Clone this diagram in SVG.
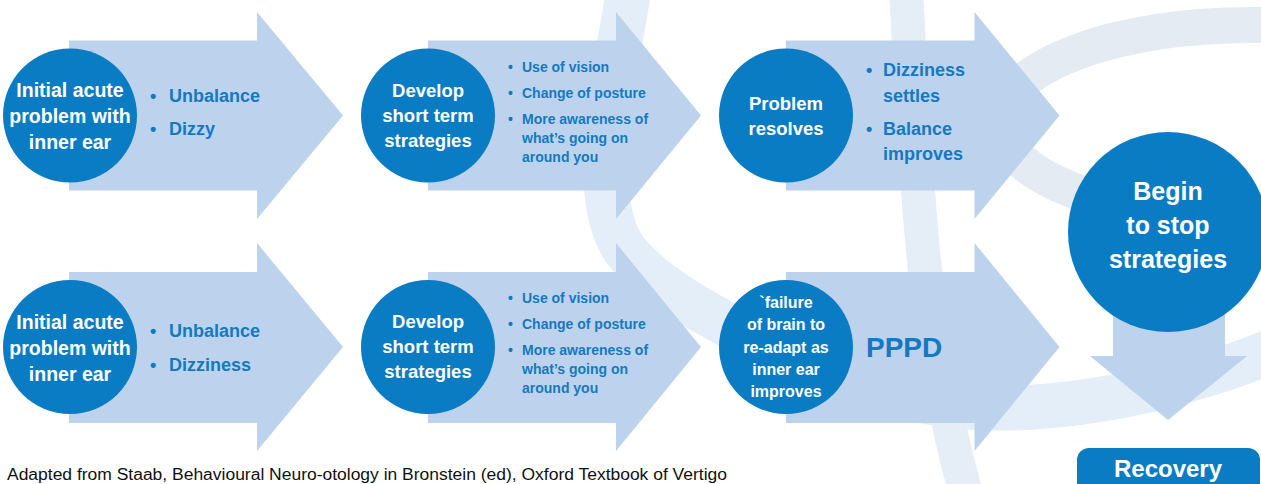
<svg xmlns="http://www.w3.org/2000/svg" width="1261" height="484" viewBox="0 0 1261 484">
  <style>
    .ring { fill: none; }
    .arrow { fill: #bdd3ed; }
    .dot { fill: #0a7cc4; }
    .ct { font-family: "Liberation Sans", Arial, sans-serif; font-weight: bold; fill: #ffffff; text-anchor: middle; }
    .bt { font-family: "Liberation Sans", Arial, sans-serif; font-weight: bold; fill: #1479c1; }
    .foot { font-family: "Liberation Sans", Arial, sans-serif; fill: #111111; font-size: 16px; }
  </style>
  <rect width="1261" height="484" fill="#ffffff"/>
  <g id="background">
    <path class="ring" d="M 628 -5 C 610 100, 590 200, 625 250 C 660 295, 760 350, 900 395 C 1000 425, 1150 400, 1270 352" stroke="#e3eef8" stroke-width="45"/>
    <path class="ring" d="M 906 -10 C 915 150, 920 330, 965 490" stroke="#e5eef6" stroke-width="34"/>
    <ellipse class="ring" cx="1250" cy="122" rx="250" ry="97" stroke="#e5ebf2" stroke-width="36"/>
  </g>
  <g id="connectors">
    <path class="arrow" d="M69 40.5 H257 V12 L343 115.5 L257 219 V190.5 H69 Z"/>
    <path class="arrow" d="M428 40.5 H616 V12 L701 115.5 L616 219 V190.5 H428 Z"/>
    <path class="arrow" d="M786 40.5 H974.5 V12 L1059.5 115.5 L974.5 219 V190.5 H786 Z"/>
    <path class="arrow" d="M69 272 H257 V243 L343 347 L257 451 V423 H69 Z"/>
    <path class="arrow" d="M428 272 H616 V243 L701 347 L616 451 V423 H428 Z"/>
    <path class="arrow" d="M786 272 H974.5 V243 L1059.5 347 L974.5 451 V423 H786 Z"/>
    <path class="arrow" d="M1113 250 H1225 V356 H1247 L1168 420 L1090 356 H1113 Z"/>
  </g>
  <g id="node-top-1">
    <circle class="dot" cx="70" cy="115.5" r="67"/>
    <text class="ct" font-size="19.5"><tspan x="70" y="97">Initial acute</tspan><tspan x="70" y="123">problem with</tspan><tspan x="70" y="149">inner ear</tspan></text>
    <text class="bt" font-size="18"><tspan x="150" y="102">•</tspan><tspan x="169" y="102">Unbalance</tspan><tspan x="150" y="135">•</tspan><tspan x="169" y="135">Dizzy</tspan></text>
  </g>
  <g id="node-top-2">
    <circle class="dot" cx="428" cy="115.5" r="67"/>
    <text class="ct" font-size="18.5"><tspan x="428" y="97">Develop</tspan><tspan x="428" y="122">short term</tspan><tspan x="428" y="147">strategies</tspan></text>
    <text class="bt" font-size="14"><tspan x="508" y="72">•</tspan><tspan x="522" y="72">Use of vision</tspan><tspan x="508" y="98">•</tspan><tspan x="522" y="98">Change of posture</tspan><tspan x="508" y="124">•</tspan><tspan x="522" y="124">More awareness of</tspan><tspan x="522" y="143">what’s going on</tspan><tspan x="522" y="162">around you</tspan></text>
  </g>
  <g id="node-top-3">
    <circle class="dot" cx="786" cy="115.5" r="67"/>
    <text class="ct" font-size="18.5"><tspan x="786" y="110">Problem</tspan><tspan x="786" y="135">resolves</tspan></text>
    <text class="bt" font-size="18"><tspan x="866" y="76">•</tspan><tspan x="883" y="76">Dizziness</tspan><tspan x="883" y="102">settles</tspan><tspan x="866" y="135">•</tspan><tspan x="883" y="135">Balance</tspan><tspan x="883" y="160">improves</tspan></text>
  </g>
  <g id="node-bottom-1">
    <circle class="dot" cx="70" cy="347" r="67"/>
    <text class="ct" font-size="19.5"><tspan x="70" y="329">Initial acute</tspan><tspan x="70" y="355">problem with</tspan><tspan x="70" y="381">inner ear</tspan></text>
    <text class="bt" font-size="18"><tspan x="150" y="337">•</tspan><tspan x="169" y="337">Unbalance</tspan><tspan x="150" y="371">•</tspan><tspan x="169" y="371">Dizziness</tspan></text>
  </g>
  <g id="node-bottom-2">
    <circle class="dot" cx="428" cy="347" r="67"/>
    <text class="ct" font-size="18.5"><tspan x="428" y="328">Develop</tspan><tspan x="428" y="353">short term</tspan><tspan x="428" y="378">strategies</tspan></text>
    <text class="bt" font-size="14"><tspan x="508" y="303">•</tspan><tspan x="522" y="303">Use of vision</tspan><tspan x="508" y="329">•</tspan><tspan x="522" y="329">Change of posture</tspan><tspan x="508" y="355">•</tspan><tspan x="522" y="355">More awareness of</tspan><tspan x="522" y="374">what’s going on</tspan><tspan x="522" y="393">around you</tspan></text>
  </g>
  <g id="node-bottom-3">
    <circle class="dot" cx="786" cy="347" r="67"/>
    <text class="ct" font-size="16"><tspan x="786" y="307.5">`failure</tspan><tspan x="786" y="330">of brain to</tspan><tspan x="786" y="352.5">re-adapt as</tspan><tspan x="786" y="375">inner ear</tspan><tspan x="786" y="397">improves</tspan></text>
    <text class="bt" font-size="28" x="866" y="357">PPPD</text>
  </g>
  <g id="node-begin">
    <circle class="dot" cx="1168" cy="232" r="100"/>
    <text class="ct" font-size="25"><tspan x="1168" y="200">Begin</tspan><tspan x="1168" y="234">to stop</tspan><tspan x="1168" y="268">strategies</tspan></text>
  </g>
  <g id="node-recovery">
    <rect class="dot" x="1077" y="448" width="183" height="50" rx="12"/>
    <text class="ct" font-size="24" x="1168" y="477">Recovery</text>
  </g>
  <text class="foot" x="7" y="480" textLength="720" lengthAdjust="spacingAndGlyphs">Adapted from Staab, Behavioural Neuro-otology in Bronstein (ed), Oxford Textbook of Vertigo</text>
</svg>
